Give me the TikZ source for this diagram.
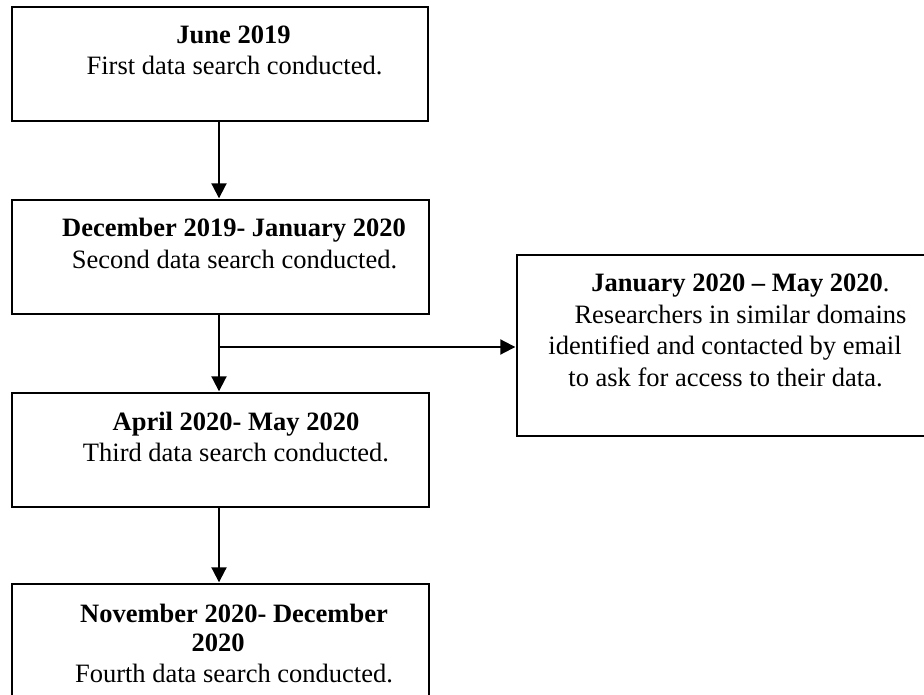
\documentclass[tikz,border=0pt]{standalone}
\usepackage{fontspec}
\setmainfont{Liberation Serif}
\usetikzlibrary{arrows.meta}
\begin{document}
\begin{tikzpicture}[x=1pt,y=-1pt,
  box/.style={draw, line width=1.4pt, inner sep=0pt},
  ln/.style={anchor=base, inner sep=0pt, font=\fontsize{26.5}{31}\selectfont},
  hd/.style={anchor=base, inner sep=0pt, font=\fontsize{26.5}{31}\selectfont\bfseries},
  arr/.style={line width=2pt, -{Triangle[length=15pt,width=15pt]}, shorten >=1pt}]
\useasboundingbox (0,0) rectangle (924,695);
\clip (0,0) rectangle (924,695);
% boxes
\node[box, minimum width=416pt, minimum height=114pt] (b1) at (220,64) {};
\node[box, minimum width=417pt, minimum height=114pt] (b2) at (220.5,257) {};
\node[box, minimum width=417pt, minimum height=114pt] (b3) at (220.5,450) {};
\node[box, minimum width=417pt, minimum height=140pt] (b4) at (220.5,654) {};
\node[box, minimum width=420pt, minimum height=181pt] (r) at (727,345.5) {};
% texts
\node[hd] (t1a) at (233.5,44) {June 2019};
\node[ln] (t1b) at (234.5,75) {First data search conducted.};
\node[hd] (t2a) at (234,237) {December 2019- January 2020};
\node[ln] (t2b) at (234.5,269) {Second data search conducted.};
\node[hd] (t3a) at (236,430) {April 2020- May 2020};
\node[ln] (t3b) at (236,461) {Third data search conducted.};
\node[hd] (t4a) at (234,622) {November 2020- December};
\node[hd] (t4b) at (218,651) {2020};
\node[ln] (t4c) at (234,682) {Fourth data search conducted.};
\node[ln] (r1) at (740.5,291) {\textbf{January 2020 – May 2020}.};
\node[ln] (r2) at (740.5,323) {Researchers in similar domains};
\node[ln] (r3) at (725,354) {identified and contacted by email};
\node[ln] (r4) at (725.5,386) {to ask for access to their data.};
% connectors
\coordinate (j) at (219,347);
\draw[arr] (b1.south -| j) -- (b2.north -| j);
\draw[arr] (b2.south -| j) -- (b3.north -| j);
\draw[arr] (j) -- (j -| r.west);
\draw[arr] (b3.south -| j) -- (b4.north -| j);
\end{tikzpicture}
\end{document}
